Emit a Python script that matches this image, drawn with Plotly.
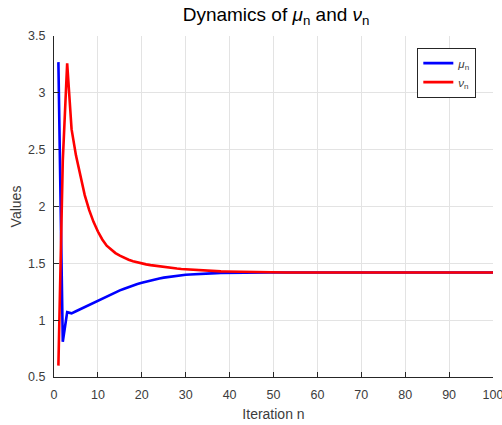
import plotly.graph_objects as go

iterations = list(range(1, 101))

mu_values = [3.27, 0.81, 1.07, 1.06, 1.078, 1.097, 1.116, 1.135, 1.154, 1.173,
             1.192, 1.21, 1.228, 1.245, 1.262, 1.277, 1.292, 1.305, 1.318, 1.329,
             1.34, 1.35, 1.359, 1.367, 1.374, 1.38, 1.386, 1.391, 1.395, 1.399,
             1.402, 1.405, 1.407, 1.409, 1.411, 1.413, 1.414, 1.415, 1.416, 1.417,
             1.417, 1.418, 1.418, 1.419, 1.419, 1.419, 1.42, 1.42, 1.42, 1.42,
             1.42, 1.42, 1.42, 1.42, 1.42, 1.42, 1.42, 1.42, 1.42, 1.42,
             1.42, 1.42, 1.42, 1.42, 1.42, 1.42, 1.42, 1.42, 1.42, 1.42,
             1.42, 1.42, 1.42, 1.42, 1.42, 1.42, 1.42, 1.42, 1.42, 1.42,
             1.42, 1.42, 1.42, 1.42, 1.42, 1.42, 1.42, 1.42, 1.42, 1.42,
             1.42, 1.42, 1.42, 1.42, 1.42, 1.42, 1.42, 1.42, 1.42, 1.42]

nu_values = [0.60, 2.40, 3.26, 2.68, 2.45, 2.26, 2.10, 1.97, 1.865, 1.78,
             1.71, 1.655, 1.618, 1.59, 1.567, 1.548, 1.532, 1.519, 1.508, 1.499,
             1.491, 1.484, 1.478, 1.472, 1.467, 1.462, 1.458, 1.454, 1.45, 1.447,
             1.444, 1.441, 1.438, 1.436, 1.434, 1.432, 1.43, 1.429, 1.428, 1.427,
             1.426, 1.425, 1.424, 1.423, 1.422, 1.422, 1.421, 1.421, 1.42, 1.42,
             1.42, 1.42, 1.42, 1.42, 1.42, 1.42, 1.42, 1.42, 1.42, 1.42,
             1.42, 1.42, 1.42, 1.42, 1.42, 1.42, 1.42, 1.42, 1.42, 1.42,
             1.42, 1.42, 1.42, 1.42, 1.42, 1.42, 1.42, 1.42, 1.42, 1.42,
             1.42, 1.42, 1.42, 1.42, 1.42, 1.42, 1.42, 1.42, 1.42, 1.42,
             1.42, 1.42, 1.42, 1.42, 1.42, 1.42, 1.42, 1.42, 1.42, 1.42]

x_ticks = [0, 10, 20, 30, 40, 50, 60, 70, 80, 90, 100]
y_ticks = [0.5, 1, 1.5, 2, 2.5, 3, 3.5]
y_tick_labels = ["0.5", "1", "1.5", "2", "2.5", "3", "3.5"]

FONT = "Liberation Sans, Arial, sans-serif"
TXT = "#3c3c3c"

fig = go.Figure()
fig.add_trace(go.Scatter(x=iterations, y=mu_values, mode="lines",
                         name="<i>μ</i><sub>n</sub>",
                         line=dict(color="#0000ff", width=2.6)))
fig.add_trace(go.Scatter(x=iterations, y=nu_values, mode="lines",
                         name="<i>ν</i><sub>n</sub>",
                         line=dict(color="#ff0000", width=2.6)))

axis_common = dict(showgrid=True, gridcolor="#e3e3e3", gridwidth=1,
                   zeroline=False, showline=True, linecolor="#262626", linewidth=1,
                   ticks="inside", ticklen=5, tickcolor="#262626",
                   tickfont=dict(family=FONT, size=12.5, color=TXT),
                   ticklabeloverflow="allow", automargin=False,
                   mirror=False)

fig.update_layout(
    width=502, height=425,
    margin=dict(l=54, r=9, t=36, b=48, autoexpand=False),
    paper_bgcolor="white", plot_bgcolor="white",
    title=dict(text="Dynamics of <i>μ</i><sub>n</sub> and <i>ν</i><sub>n</sub>",
               x=0.55, xanchor="center", y=0.967, yanchor="middle",
               font=dict(family=FONT, size=19, color="black")),
    xaxis=dict(range=[0, 100], tickvals=x_ticks, ticklabelstandoff=6,
               title=dict(text="Iteration n", font=dict(family=FONT, size=14, color=TXT), standoff=8),
               **axis_common),
    yaxis=dict(range=[0.5, 3.5], tickvals=y_ticks, ticktext=y_tick_labels, ticklabelstandoff=5,
               title=dict(text="Values", font=dict(family=FONT, size=14, color=TXT), standoff=3),
               **axis_common),
    legend=dict(x=0.962, xanchor="right", y=0.966, yanchor="top",
                bgcolor="white", bordercolor="#262626", borderwidth=1,
                font=dict(family=FONT, size=11.5, color=TXT),
                itemwidth=30),
    showlegend=True,
)

fig.write_html("out.html")
